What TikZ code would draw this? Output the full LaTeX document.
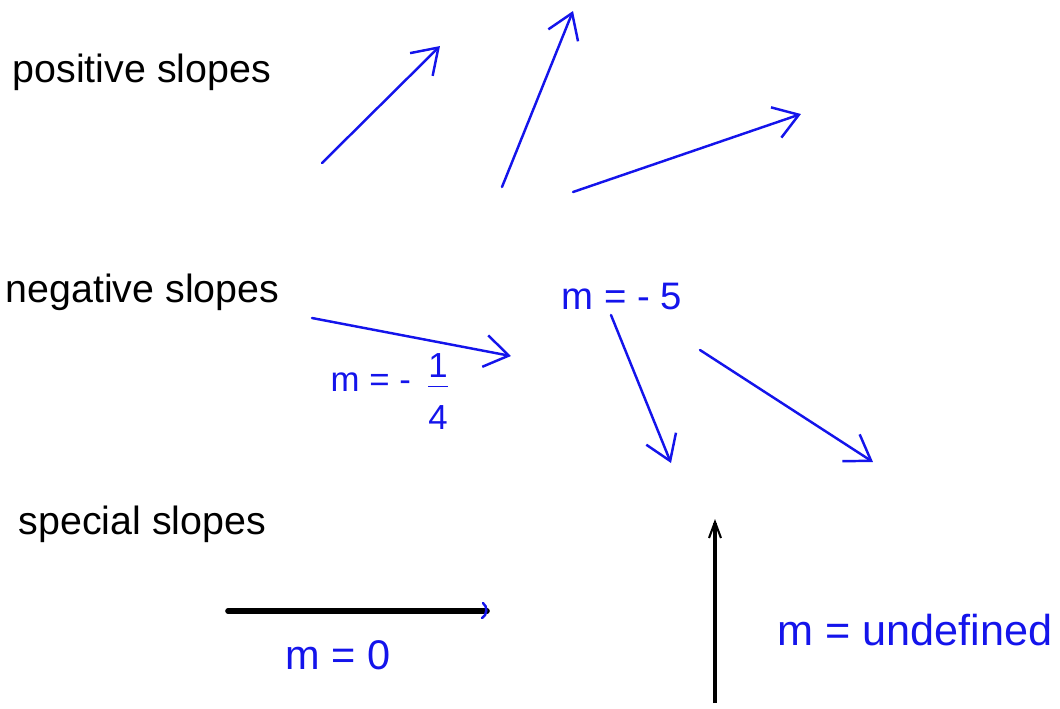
\documentclass[tikz,border=0pt]{standalone}
\usepackage{fontspec}
\setmainfont{Liberation Sans}
\usetikzlibrary{arrows.meta, positioning}
\definecolor{ink}{RGB}{20,20,235}

\begin{document}
\begin{tikzpicture}[x=0.1mm, y=-0.1mm,
  title/.style={font=\fontsize{11.2}{13}\selectfont, inner sep=0pt, anchor=base west},
  hand/.style={text=ink, inner sep=0pt},
  pen/.style={draw=ink, line width=0.7pt, line cap=round, line join=round},
  penarrow/.style={pen, -{Straight Barb[length=2.4mm,width=3.2mm,line width=0.7pt]}},
  thick line/.style={draw=black, line width=1.6pt}]
\useasboundingbox (0,0) rectangle (1060,708);

\node [title] (positive) at (12,82)  {positive slopes};
\node [title] (negative) at (5,302)  {negative slopes};
\node [title] (special)  at (18,534) {special slopes};

\coordinate (p1s) at (322,163); \coordinate (p1e) at (440,46);
\coordinate (p2s) at (502,187); \coordinate (p2e) at (573,11);
\coordinate (p3s) at (573,192); \coordinate (p3e) at (801,114);
\coordinate (n1s) at (312,318); \coordinate (n1e) at (511,356);
\coordinate (n2s) at (611,315); \coordinate (n2e) at (671,463);
\coordinate (n3s) at (700,350); \coordinate (n3e) at (873,462);

\foreach \a/\b in {p1s/p1e, p2s/p2e, p3s/p3e, n1s/n1e, n2s/n2e, n3s/n3e}
  \draw [penarrow] (\a) -- (\b);

\node [hand, font=\fontsize{10.9}{12}\selectfont] (mfive) at (622,296) {m = - 5};
\node [hand, font=\fontsize{9.9}{11}\selectfont, anchor=base west] (mquarter) at (330,391) {m = -};
\node [hand, font=\fontsize{9.9}{11}\selectfont, right=1.6mm of mquarter.east, yshift=-1.4mm]
  (quarter) {\begin{tabular}{@{}c@{}}1\\[-1pt]\hline\rule{0pt}{12pt}4\end{tabular}};

\coordinate (hs) at (228,611); \coordinate (he) at (487,611);
\coordinate (vs) at (715,703); \coordinate (ve) at (715,519);

\draw [thick line, line cap=round] (hs) -- (he);
\draw [pen] ([shift={(-4,-8)}]he) to[bend left=60] ([shift={(-5,7)}]he);
\draw [thick line, line width=1.4pt, -{Straight Barb[length=1.6mm,width=1.2mm,line width=0.6pt]}] (vs) -- (ve);

\node [hand, font=\fontsize{11.8}{13}\selectfont] (mzero) at (338,655) {m = 0};
\node [hand, font=\fontsize{12.3}{14}\selectfont] (mundef) at (915,630) {m = undefined};
\end{tikzpicture}
\end{document}
